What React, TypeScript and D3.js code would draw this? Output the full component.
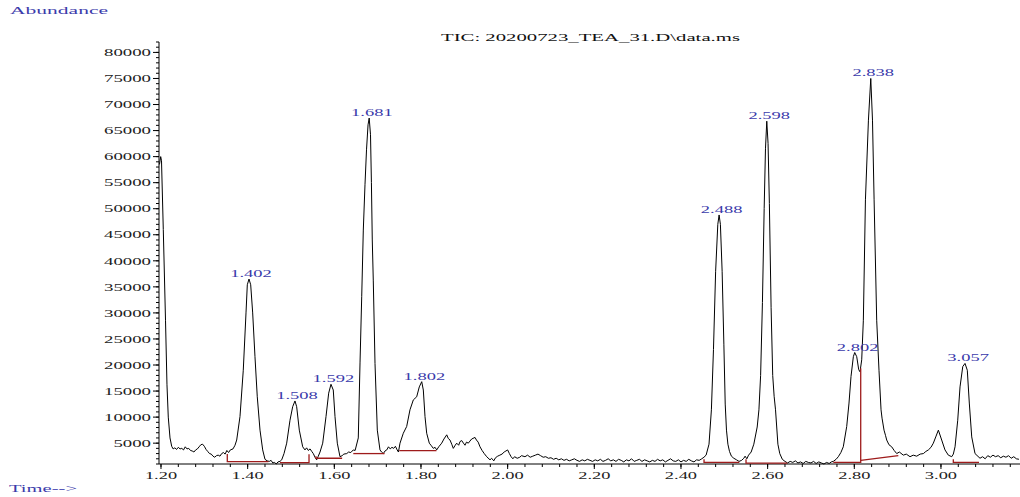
import React from "react";
import * as d3 from "d3";

// TIC trace: [time (min), abundance]
const tic: [number, number][] = [
  [1.1965, 58500], [1.1993, 60000], [1.2012, 59200], [1.2053, 46000], [1.2104, 28600],
  [1.2138, 16200], [1.2168, 10000], [1.2208, 6000], [1.2247, 4400], [1.228, 3900],
  [1.232, 4100], [1.236, 3800], [1.24, 4200], [1.244, 3900], [1.248, 4000],
  [1.252, 3700], [1.256, 4300], [1.26, 3900], [1.264, 4000], [1.268, 3600],
  [1.272, 3500], [1.276, 3300], [1.28, 3700], [1.284, 3900], [1.288, 4300],
  [1.292, 4700], [1.296, 4800], [1.3, 4400], [1.304, 3800], [1.308, 3400],
  [1.312, 3000], [1.316, 2900], [1.32, 2500], [1.324, 2300], [1.328, 2600],
  [1.332, 2700], [1.336, 2500], [1.34, 3000], [1.344, 3200], [1.348, 2900],
  [1.352, 3600], [1.356, 3200], [1.36, 3700], [1.3662, 3900], [1.3708, 4600],
  [1.3747, 5600], [1.3823, 10100], [1.3899, 19000], [1.3962, 30000], [1.3992, 35400],
  [1.4031, 36500], [1.407, 35400], [1.4116, 30000], [1.4169, 21600], [1.4222, 13900],
  [1.4285, 7500], [1.4347, 3700], [1.44, 1900], [1.445, 1600], [1.45, 1500],
  [1.454, 1700], [1.458, 1200], [1.462, 1300], [1.466, 1000], [1.47, 1400],
  [1.4746, 1500], [1.4786, 1800], [1.4839, 3000], [1.4901, 5000], [1.4977, 9400],
  [1.5039, 12000], [1.5092, 13100], [1.5131, 12000], [1.5192, 7500], [1.527, 4300],
  [1.5323, 3700], [1.536, 4100], [1.54, 3600], [1.544, 3900], [1.548, 3400],
  [1.5515, 3000], [1.556, 2200], [1.5593, 1800], [1.563, 2500], [1.567, 3300],
  [1.5732, 5000], [1.5808, 10100], [1.587, 14600], [1.5923, 16300], [1.5976, 15200],
  [1.6016, 10100], [1.6069, 5000], [1.6131, 2400], [1.618, 2600], [1.622, 2900],
  [1.6286, 3000], [1.633, 3300], [1.638, 3200], [1.6438, 3700], [1.648, 3600],
  [1.6553, 6000], [1.6593, 20400], [1.6632, 33100], [1.6669, 45900], [1.6708, 54600],
  [1.6743, 61300], [1.6778, 66100], [1.6805, 67400], [1.6835, 64200], [1.6856, 55000],
  [1.6876, 44000], [1.6899, 36300], [1.6939, 20300], [1.6992, 7500], [1.7054, 3700],
  [1.709, 3300], [1.7131, 3000], [1.717, 3500], [1.721, 3700], [1.725, 4300],
  [1.729, 3900], [1.733, 4200], [1.737, 4000], [1.741, 4400], [1.745, 3700],
  [1.748, 3300], [1.7516, 5000], [1.7592, 6900], [1.767, 8200], [1.7746, 11400],
  [1.7823, 13300], [1.7901, 13900], [1.7961, 15800], [1.8017, 16800], [1.8054, 15200],
  [1.8093, 10100], [1.8132, 6900], [1.8192, 5000], [1.824, 4500], [1.8284, 4000],
  [1.8325, 4200], [1.8363, 3700], [1.841, 4300], [1.8478, 5000], [1.853, 5800],
  [1.8594, 6600], [1.863, 5900], [1.867, 5600], [1.871, 4800], [1.8746, 4000],
  [1.879, 4600], [1.8824, 5000], [1.887, 4600], [1.89, 5300], [1.894, 5500],
  [1.898, 5000], [1.9016, 4600], [1.905, 5200], [1.9092, 5000], [1.913, 5400],
  [1.917, 5800], [1.9247, 6100], [1.928, 5600], [1.932, 5200], [1.9362, 4300],
  [1.941, 3600], [1.946, 3000], [1.9517, 2400], [1.9593, 1800], [1.963, 2100],
  [1.968, 1600], [1.972, 2200], [1.977, 2500], [1.982, 2700], [1.987, 2900],
  [1.992, 3300], [1.996, 3500], [2.0, 3700], [2.004, 3000], [2.008, 2400],
  [2.012, 2000], [2.016, 2400], [2.022, 2100], [2.028, 2300], [2.032, 2600],
  [2.04, 2400], [2.046, 2700], [2.052, 2300], [2.058, 2500], [2.064, 2700],
  [2.07, 2900], [2.076, 2600], [2.082, 2300], [2.088, 2400], [2.094, 2100],
  [2.1, 2200], [2.106, 1900], [2.112, 2100], [2.118, 1800], [2.124, 2000],
  [2.13, 1700], [2.136, 1900], [2.142, 1600], [2.148, 1800], [2.154, 2000],
  [2.16, 1700], [2.166, 1500], [2.172, 1800], [2.178, 1600], [2.184, 1900],
  [2.19, 1700], [2.196, 1500], [2.202, 1800], [2.208, 1600], [2.214, 1900],
  [2.22, 1500], [2.226, 1700], [2.232, 2000], [2.238, 1600], [2.244, 1800],
  [2.25, 1500], [2.256, 1900], [2.262, 1700], [2.268, 1400], [2.274, 1800],
  [2.28, 1600], [2.286, 2000], [2.292, 1500], [2.298, 1700], [2.304, 1900],
  [2.31, 1500], [2.316, 1800], [2.322, 1600], [2.328, 1400], [2.334, 1700],
  [2.34, 1500], [2.346, 1900], [2.352, 1600], [2.358, 1800], [2.364, 1400],
  [2.37, 1700], [2.376, 2000], [2.382, 1600], [2.388, 1500], [2.394, 1800],
  [2.4, 1400], [2.406, 1700], [2.412, 1500], [2.418, 1900], [2.424, 1600],
  [2.43, 1400], [2.436, 1800], [2.442, 1700], [2.448, 2000], [2.453, 2300],
  [2.458, 2700], [2.4647, 4800], [2.4702, 11400], [2.475, 23000], [2.48, 38000],
  [2.485, 47000], [2.488, 48800], [2.491, 47000], [2.495, 38000], [2.499, 24000],
  [2.5021, 12500], [2.505, 7500], [2.5083, 4800], [2.512, 3400], [2.5164, 2500],
  [2.522, 2100], [2.5282, 1800], [2.534, 1500], [2.54, 1700], [2.545, 2100],
  [2.548, 2500], [2.552, 2000], [2.556, 2700], [2.562, 3300], [2.5681, 4800],
  [2.5759, 8100], [2.5799, 11400], [2.5838, 18000], [2.588, 32000], [2.592, 50000],
  [2.595, 61500], [2.598, 66800], [2.601, 62500], [2.604, 51000], [2.608, 31000],
  [2.6117, 18000], [2.615, 14000], [2.6182, 11400], [2.6237, 4800], [2.628, 3000],
  [2.6339, 1900], [2.64, 1500], [2.646, 1200], [2.652, 1500], [2.658, 1300],
  [2.664, 1600], [2.67, 1200], [2.676, 1400], [2.682, 1100], [2.688, 1500],
  [2.694, 1300], [2.7, 1200], [2.706, 1500], [2.712, 1100], [2.718, 1400],
  [2.724, 1200], [2.73, 1000], [2.736, 1300], [2.742, 1100], [2.747, 1400],
  [2.7516, 1500], [2.758, 1900], [2.7631, 2400], [2.769, 3200], [2.7746, 4300],
  [2.7825, 8200], [2.7878, 12700], [2.7924, 17800], [2.7978, 21600], [2.801, 22400],
  [2.8056, 21600], [2.8102, 19100], [2.8132, 18700], [2.8171, 21000], [2.8209, 28600],
  [2.8257, 51700], [2.8326, 67000], [2.838, 75000], [2.842, 67000], [2.8457, 51700],
  [2.8517, 28600], [2.857, 19000], [2.8617, 11400], [2.864, 9800], [2.8686, 7500],
  [2.872, 6500], [2.8748, 5600], [2.88, 4700], [2.8863, 4300], [2.892, 3600],
  [2.8979, 3000], [2.904, 3300], [2.9131, 2700], [2.92, 2900], [2.9286, 2400],
  [2.936, 2700], [2.944, 2500], [2.952, 2900], [2.9594, 3000], [2.965, 3400],
  [2.9709, 3700], [2.977, 4200], [2.9824, 5000], [2.988, 6200], [2.994, 7500],
  [3.0017, 5600], [3.0093, 3700], [3.017, 2700], [3.0248, 2400], [3.0285, 2900],
  [3.0325, 4300], [3.0387, 9400], [3.044, 15800], [3.0503, 19700], [3.0555, 20300],
  [3.0608, 19000], [3.0654, 12700], [3.071, 6200], [3.0786, 3000], [3.0901, 2100],
  [3.096, 2400], [3.102, 2000], [3.108, 2600], [3.114, 2300], [3.12, 2700],
  [3.126, 2400], [3.132, 2600], [3.138, 2200], [3.144, 2500], [3.15, 2300],
  [3.156, 2600], [3.162, 2100], [3.168, 2400], [3.174, 2000], [3.18, 1900],
];

// peak labels: retention time text + apex abundance
const peakLabels = ["1.402", "1.508", "1.592", "1.681", "1.802", "2.488", "2.598", "2.802", "2.838", "3.057"];
const peakHeights = [36500, 13100, 16300, 67400, 16800, 48800, 66800, 22400, 75000, 20300];

// integration baselines (red), each a polyline of [time, abundance]
const baselines: [number, number][][] = [
  [[1.353, 2900], [1.353, 1440], [1.448, 1440]],
  [[1.4746, 1250], [1.5416, 1250], [1.5416, 2860]],
  [[1.5577, 2500], [1.5577, 2100], [1.618, 2100]],
  [[1.6438, 3000], [1.716, 3000]],
  [[1.75, 3550], [1.8358, 3550]],
  [[2.4532, 1900], [2.4532, 1330], [2.5347, 1330]],
  [[2.5501, 1900], [2.5501, 1150], [2.6455, 1150]],
  [[2.7516, 1330], [2.8148, 1330], [2.8148, 19400]],
  [[2.8148, 1700], [2.9016, 2600]],
  [[3.0285, 1900], [3.0285, 1330], [3.0878, 1330]],
];

const yMajor = d3.range(5000, 80001, 5000);
const yMinor = d3.range(1000, 82001, 1000);
const xMajor = d3.range(1.2, 3.01, 0.2);
const xMinor = d3.range(1.2, 3.17, 0.04);

const W = 1020;
const H = 497;
const FONT = "'Liberation Serif', 'Times New Roman', serif";
const BLUE = "#3b3bab";
const RED = "#9e1b1b";

export default function App() {
  const x = d3.scaleLinear().domain([1.1954, 3.1824]).range([159, 1020]);
  const y = d3.scaleLinear().domain([1000, 82000]).range([464, 42]);
  const line = d3.line<[number, number]>().x((d) => x(d[0])).y((d) => y(d[1]));

  const digitW = 9.4;
  const w = (s: string) => s.replace(/\./g, "").length * digitW + (s.includes(".") ? 4 : 0);

  return (
    <svg width={W} height={H} style={{ position: "absolute", left: 0, top: 0, background: "#fff" }}>
      <text x={10} y={14} fontFamily={FONT} fontSize={11} fill={BLUE} textLength={98} lengthAdjust="spacingAndGlyphs">
        Abundance
      </text>
      <text x={441} y={40.5} fontFamily={FONT} fontSize={11} fill="#111" textLength={299} lengthAdjust="spacingAndGlyphs">
        TIC: 20200723_TEA_31.D\data.ms
      </text>
      <text x={9} y={492} fontFamily={FONT} fontSize={11} fill={BLUE} textLength={68} lengthAdjust="spacingAndGlyphs">
        {"Time-->"}
      </text>

      {/* y axis */}
      <line x1={159} x2={159} y1={42} y2={464} stroke="#000" />
      {yMinor.map((v) => (
        <line key={"ym" + v} x1={156} x2={159} y1={y(v)} y2={y(v)} stroke="#000" />
      ))}
      {yMajor.map((v) => (
        <g key={"yM" + v}>
          <line x1={153} x2={159} y1={y(v)} y2={y(v)} stroke="#000" />
          <text x={151 - w(String(v))} y={y(v) + 3.7} fontFamily={FONT} fontSize={11} fill="#222"
            textLength={w(String(v))} lengthAdjust="spacingAndGlyphs">
            {v}
          </text>
        </g>
      ))}

      {/* x axis */}
      <line x1={159} x2={1020} y1={464} y2={464} stroke="#000" />
      {xMinor.map((v) => (
        <line key={"xm" + v} x1={x(v)} x2={x(v)} y1={464} y2={467} stroke="#000" />
      ))}
      {xMajor.map((v) => {
        const s = v.toFixed(2);
        return (
          <g key={"xM" + s}>
            <line x1={x(v)} x2={x(v)} y1={464} y2={469} stroke="#000" />
            <text x={x(v) - w(s) / 2} y={479} fontFamily={FONT} fontSize={11} fill="#222"
              textLength={w(s)} lengthAdjust="spacingAndGlyphs">
              {s}
            </text>
          </g>
        );
      })}

      {/* trace */}
      <path d={line(tic) ?? ""} fill="none" stroke="#000" strokeWidth={1} />

      {/* baselines */}
      {baselines.map((b, i) => (
        <path key={"b" + i} d={line(b) ?? ""} fill="none" stroke={RED} strokeWidth={1.3} />
      ))}

      {/* peak labels */}
      {peakLabels.map((s, i) => (
        <text key={s} x={x(+s) + 2.5 - w(s) / 2} y={y(peakHeights[i]) - 2} fontFamily={FONT} fontSize={11}
          fill={BLUE} textLength={w(s)} lengthAdjust="spacingAndGlyphs">
          {s}
        </text>
      ))}
    </svg>
  );
}
